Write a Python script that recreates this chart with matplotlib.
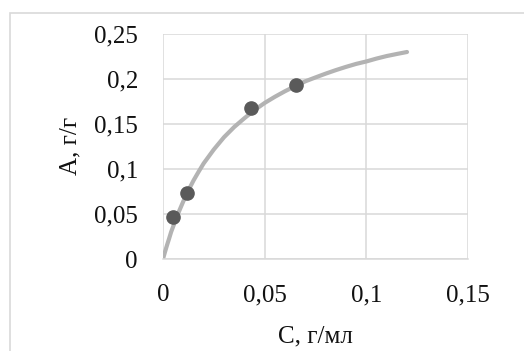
import numpy as np
import matplotlib
matplotlib.use('Agg')
import matplotlib.pyplot as plt
from matplotlib.patches import Rectangle

# experimental points
c_points = [0.005, 0.0117, 0.0431, 0.0653]
a_points = [0.047, 0.073, 0.167, 0.193]

# fitted curve
c_curve = [0, 0.001, 0.002, 0.003, 0.004, 0.005, 0.0075, 0.01, 0.0125, 0.015,
           0.0175, 0.02, 0.025, 0.03, 0.035, 0.04, 0.045, 0.05, 0.055, 0.06,
           0.065, 0.07, 0.075, 0.08, 0.085, 0.09, 0.095, 0.1, 0.105, 0.11,
           0.115, 0.12]
a_curve = [0, 0.008, 0.0155, 0.0226, 0.030, 0.036, 0.0508, 0.064, 0.0761, 0.087,
           0.0967, 0.106, 0.1214, 0.135, 0.1463, 0.156, 0.1651, 0.173, 0.1798, 0.186,
           0.1916, 0.197, 0.2013, 0.2055, 0.2094, 0.213, 0.2163, 0.219, 0.2222, 0.225,
           0.2273, 0.2295]

xticks = [0, 0.05, 0.1, 0.15]
xtick_labels = ['0', '0,05', '0,1', '0,15']
yticks = [0, 0.05, 0.1, 0.15, 0.2, 0.25]
ytick_labels = ['0', '0,05', '0,1', '0,15', '0,2', '0,25']

plt.rcParams['font.family'] = ['Liberation Serif', 'DejaVu Serif']

fig = plt.figure(figsize=(5.24, 3.51), dpi=100)
ax = fig.add_axes([163/524, 1 - 259/351, 305/524, 225.5/351])

# chart frame (Excel style)
fig.patches.append(Rectangle((10/524, -0.1), 1.2, 1 - 13/351 + 0.1,
                             transform=fig.transFigure, fill=False,
                             edgecolor='#d9d9d9', linewidth=1.2))

ax.plot(c_curve, a_curve, color='#b3b3b3', linewidth=3.0, zorder=2,
        solid_capstyle='round', solid_joinstyle='round')
ax.plot(c_points, a_points, 'o', color='#5a5a5a', markersize=9.5, zorder=3)

ax.set_xlim(0, 0.15)
ax.set_ylim(0, 0.25)
ax.set_xticks(xticks)
ax.set_xticklabels(xtick_labels)
ax.set_yticks(yticks)
ax.set_yticklabels(ytick_labels)
ax.tick_params(length=0, labelsize=18, labelcolor='#111111')
ax.tick_params(axis='y', pad=18)
ax.tick_params(axis='x', pad=18)
ax.grid(True, color='#d9d9d9', linewidth=1.1)
ax.set_axisbelow(True)
for s in ['top', 'right', 'left']:
    ax.spines[s].set_visible(False)
ax.spines['bottom'].set_color('#d9d9d9')
ax.spines['bottom'].set_linewidth(1.1)

ax.set_xlabel('С, г/мл', fontsize=18, color='#111111', labelpad=14)
ax.set_ylabel('А, г/г', fontsize=18, color='#111111', labelpad=9)

fig.savefig('out.png', dpi=100)
